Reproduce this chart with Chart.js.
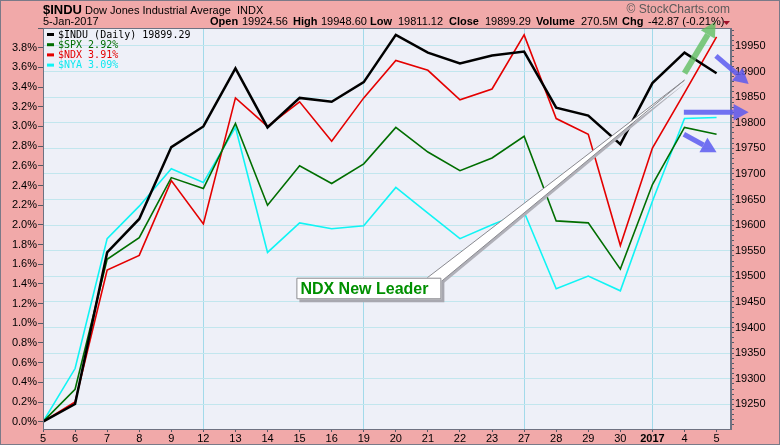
<!DOCTYPE html>
<html>
<head>
<meta charset="utf-8">
<script src="https://cdn.jsdelivr.net/npm/chart.js@4/dist/chart.umd.min.js"></script>
<style>
  html, body { margin: 0; padding: 0; background: #f1a9a9; }
  canvas { display: block; }
</style>
</head>
<body>
<canvas id="perfChart" width="780" height="445"></canvas>
<script>
// trading days, Dec 5 2016 .. Jan 5 2017
const dayLabels = ["5", "6", "7", "8", "9", "12", "13", "14", "15", "16", "19", "20",
  "21", "22", "23", "27", "28", "29", "30", "2017", "4", "5"];

// % change since Dec 5
const induPct = [0, 0.18, 1.72, 2.06, 2.79, 3.00, 3.59, 2.99, 3.29, 3.25, 3.45, 3.93,
  3.75, 3.64, 3.72, 3.76, 3.19, 3.11, 2.82, 3.44, 3.75, 3.54];
const spxPct = [0, 0.33, 1.65, 1.87, 2.48, 2.37, 3.03, 2.20, 2.60, 2.42, 2.62, 2.99,
  2.74, 2.55, 2.68, 2.90, 2.04, 2.02, 1.55, 2.41, 2.99, 2.92];
const ndxPct = [0, 0.20, 1.54, 1.69, 2.45, 2.01, 3.29, 3.00, 3.25, 2.85, 3.29, 3.67,
  3.57, 3.27, 3.38, 3.93, 3.08, 2.92, 1.79, 2.78, 3.34, 3.91];
const nyaPct = [0, 0.54, 1.86, 2.19, 2.57, 2.43, 2.99, 1.72, 2.02, 1.96, 1.99, 2.38,
  2.12, 1.86, 2.00, 2.13, 1.35, 1.48, 1.33, 2.24, 3.08, 3.09];

const legendLabels = ["$INDU (Daily) 19899.29", "$SPX 2.92%", "$NDX 3.91%", "$NYA 3.09%"];
const induBase = 19216.24; // Dec 5 close, right axis
const pctMin = -0.074;
const pctMax = 4.0;
const weekStarts = [5, 10, 15, 19];

const FONT = "Liberation Sans";

function toPoints(arr) {
  return arr.map((v, i) => ({ x: i, y: v }));
}

const bgPlugin = {
  id: "bg",
  beforeDraw(chart) {
    const { ctx, chartArea: a, width, height } = chart;
    ctx.save();
    ctx.fillStyle = "#f1a9a9";
    ctx.fillRect(0, 0, width, height);
    ctx.fillStyle = "#eef0f8";
    ctx.fillRect(a.left, a.top, a.right - a.left, a.bottom - a.top);
    ctx.restore();
  },
  afterDraw(chart) {
    const { ctx, chartArea: a, width, height } = chart;
    ctx.save();
    ctx.strokeStyle = "#6e7282";
    ctx.lineWidth = 1;
    ctx.strokeRect(a.left + 0.5, a.top + 0.5, a.right - a.left - 1, a.bottom - a.top);
    ctx.strokeStyle = "#7a7a88";
    ctx.strokeRect(0.5, 0.5, width - 1, height - 1);
    ctx.restore();
  },
};

const headerPlugin = {
  id: "header",
  afterDraw(chart) {
    const ctx = chart.ctx;
    ctx.save();
    ctx.fillStyle = "#000";
    ctx.textBaseline = "alphabetic";
    ctx.font = "bold 13px " + FONT;
    ctx.fillText("$INDU", 43, 14);
    ctx.font = "11px " + FONT;
    ctx.fillText("Dow Jones Industrial Average", 85, 14);
    ctx.fillText("INDX", 237, 14);
    ctx.fillText("5-Jan-2017", 43, 25);

    const parts = [
      ["Open", 210, true], ["19924.56", 242, false],
      ["High", 293, true], ["19948.60", 321, false],
      ["Low", 370, true], ["19811.12", 398, false],
      ["Close", 449, true], ["19899.29", 485, false],
      ["Volume", 536, true], ["270.5M", 581, false],
      ["Chg", 622, true], ["-42.87 (-0.21%)", 648, false],
    ];
    parts.forEach(([t, x, bold]) => {
      ctx.font = (bold ? "bold 11px " : "11px ") + FONT;
      ctx.fillText(t, x, 25);
    });
    ctx.fillStyle = "#a0102a";
    ctx.beginPath();
    ctx.moveTo(723, 21);
    ctx.lineTo(730, 21);
    ctx.lineTo(726.5, 25);
    ctx.closePath();
    ctx.fill();

    ctx.fillStyle = "#5a5a5a";
    ctx.font = "12px " + FONT;
    ctx.textAlign = "right";
    ctx.fillText("\u00a9 StockCharts.com", 730, 13);
    ctx.restore();
  },
};

const legendPlugin = {
  id: "miniLegend",
  afterDatasetsDraw(chart) {
    const { ctx, chartArea: a } = chart;
    ctx.save();
    ctx.font = "10px DejaVu Sans Mono";
    ctx.textBaseline = "middle";
    chart.data.datasets.forEach((ds, i) => {
      const y = a.top + 6.5 + i * 10.2;
      ctx.fillStyle = ds.borderColor;
      ctx.fillRect(a.left + 4, y - 1.5, 7, 3);
      ctx.fillStyle = ds.legendColor;
      ctx.fillText(legendLabels[i], a.left + 15, y + 0.5);
    });
    ctx.restore();
  },
};

function drawArrow(ctx, x1, y1, x2, y2, color, w, head) {
  const ang = Math.atan2(y2 - y1, x2 - x1);
  const bx = x2 - head * Math.cos(ang);
  const by = y2 - head * Math.sin(ang);
  const hw = head * 0.55;
  ctx.strokeStyle = color;
  ctx.fillStyle = color;
  ctx.lineWidth = w;
  ctx.beginPath();
  ctx.moveTo(x1, y1);
  ctx.lineTo(bx, by);
  ctx.stroke();
  ctx.beginPath();
  ctx.moveTo(x2, y2);
  ctx.lineTo(bx + hw * Math.sin(ang), by - hw * Math.cos(ang));
  ctx.lineTo(bx - hw * Math.sin(ang), by + hw * Math.cos(ang));
  ctx.closePath();
  ctx.fill();
}

const notePlugin = {
  id: "notes",
  afterDraw(chart) {
    const ctx = chart.ctx;
    const xs = chart.scales.x;
    const ys = chart.scales.y;
    const px = (v) => xs.getPixelForValue(v);
    const py = (v) => ys.getPixelForValue(v);
    ctx.save();

    // callout pointer
    const tipX = px(20.0), tipY = py(3.47);
    const boxL = px(7.9), boxR = px(12.42), boxT = py(1.463), boxB = py(1.244);
    ctx.lineJoin = "round";
    ctx.fillStyle = "#b0b0b8";
    ctx.beginPath();
    ctx.moveTo(tipX + 2, tipY + 2);
    ctx.lineTo(boxR - 14 + 2, boxT + 2);
    ctx.lineTo(boxR - 4 + 2, boxT + 7 + 2);
    ctx.closePath();
    ctx.fill();
    ctx.fillStyle = "#fff";
    ctx.strokeStyle = "#8a8a90";
    ctx.lineWidth = 1;
    ctx.beginPath();
    ctx.moveTo(tipX, tipY);
    ctx.lineTo(boxR - 14, boxT);
    ctx.lineTo(boxR - 4, boxT + 7);
    ctx.closePath();
    ctx.fill();
    ctx.stroke();

    // label box
    ctx.fillStyle = "#a8a8b0";
    ctx.fillRect(boxL + 3, boxT + 3, boxR - boxL, boxB - boxT);
    ctx.fillStyle = "#fff";
    ctx.fillRect(boxL, boxT, boxR - boxL, boxB - boxT);
    ctx.strokeStyle = "#8a8a90";
    ctx.strokeRect(boxL + 0.5, boxT + 0.5, boxR - boxL - 1, boxB - boxT - 1);
    ctx.fillStyle = "#009000";
    ctx.font = "bold 16px " + FONT;
    ctx.textBaseline = "alphabetic";
    ctx.fillText("NDX New Leader", boxL + 4, boxB - 5.5);

    // arrows
    const green = "rgba(96, 190, 96, 0.8)";
    const blue = "rgba(90, 90, 240, 0.85)";
    drawArrow(ctx, px(20.0), py(3.541), px(20.97), py(4.065), green, 6, 15);
    drawArrow(ctx, px(20.98), py(3.717), px(22.0), py(3.432), blue, 5, 15);
    drawArrow(ctx, px(19.98), py(3.144), px(22.0), py(3.144), blue, 5, 15);
    drawArrow(ctx, px(19.98), py(2.921), px(21.0), py(2.738), blue, 5, 15);
    ctx.restore();
  },
};

const ctx = document.getElementById("perfChart").getContext("2d");

const perfChart = new Chart(ctx, {
  type: "line",
  data: {
    datasets: [
      { label: "$INDU", data: toPoints(induPct), borderColor: "#000000", legendColor: "#000000", borderWidth: 2.5 },
      { label: "$SPX", data: toPoints(spxPct), borderColor: "#006e00", legendColor: "#006e00", borderWidth: 1.6 },
      { label: "$NDX", data: toPoints(ndxPct), borderColor: "#e40000", legendColor: "#e40000", borderWidth: 1.6 },
      { label: "$NYA", data: toPoints(nyaPct), borderColor: "#10f4f4", legendColor: "#10e8f0", borderWidth: 1.6 },
    ],
  },
  options: {
    responsive: false,
    animation: false,
    devicePixelRatio: 1,
    layout: { padding: { top: 28, left: 0, right: 0, bottom: 0 } },
    elements: {
      point: { radius: 0, hoverRadius: 0 },
      line: { tension: 0, fill: false, borderJoinStyle: "miter" },
    },
    plugins: {
      legend: { display: false },
      tooltip: { enabled: false },
    },
    scales: {
      x: {
        type: "linear",
        min: 0,
        max: 21.45,
        afterFit: (s) => { s.height = 16; },
        border: { color: "#6e7282" },
        grid: {
          color: (c) => (c.tick && weekStarts.includes(c.tick.value) ? "#a2daea" : "rgba(0,0,0,0)"),
          tickColor: "#555a66",
          tickLength: 3,
        },
        ticks: {
          stepSize: 1,
          autoSkip: false,
          includeBounds: false,
          maxRotation: 0,
          padding: 0,
          color: "#000",
          font: (c) => ({ family: FONT, size: 11, weight: c.tick && c.tick.value === 19 ? "bold" : "normal" }),
          callback: (v) => (Number.isInteger(v) && dayLabels[v] !== undefined ? dayLabels[v] : ""),
        },
      },
      y: {
        position: "left",
        min: pctMin,
        max: pctMax,
        afterFit: (s) => { s.width = 43; },
        border: { color: "#6e7282" },
        grid: { drawOnChartArea: false, tickColor: "#555a66", tickLength: 5 },
        ticks: {
          stepSize: 0.2,
          includeBounds: false,
          autoSkip: false,
          padding: 1,
          color: "#000",
          font: { family: FONT, size: 11 },
          callback: (v) => (v >= -0.01 && v < 3.9 ? v.toFixed(1) + "%" : ""),
        },
      },
      yRight: {
        position: "right",
        min: induBase * (1 + pctMin / 100),
        max: induBase * (1 + pctMax / 100),
        afterFit: (s) => { s.width = 49; },
        border: { color: "#6e7282" },
        grid: {
          color: (c) => (c.tick && Math.abs(c.tick.value % 50) < 0.01 ? "#c2e6ee" : "rgba(0,0,0,0)"),
          tickColor: "#555a66",
          tickLength: 3,
        },
        ticks: {
          stepSize: 10,
          includeBounds: false,
          autoSkip: false,
          padding: 1,
          color: "#000",
          font: { family: FONT, size: 11 },
          callback: (v) => (Math.abs(v % 50) < 0.01 && v >= 19250 && v <= 19950 ? String(v) : ""),
        },
      },
    },
  },
  plugins: [bgPlugin, legendPlugin, notePlugin, headerPlugin],
});
</script>
</body>
</html>
